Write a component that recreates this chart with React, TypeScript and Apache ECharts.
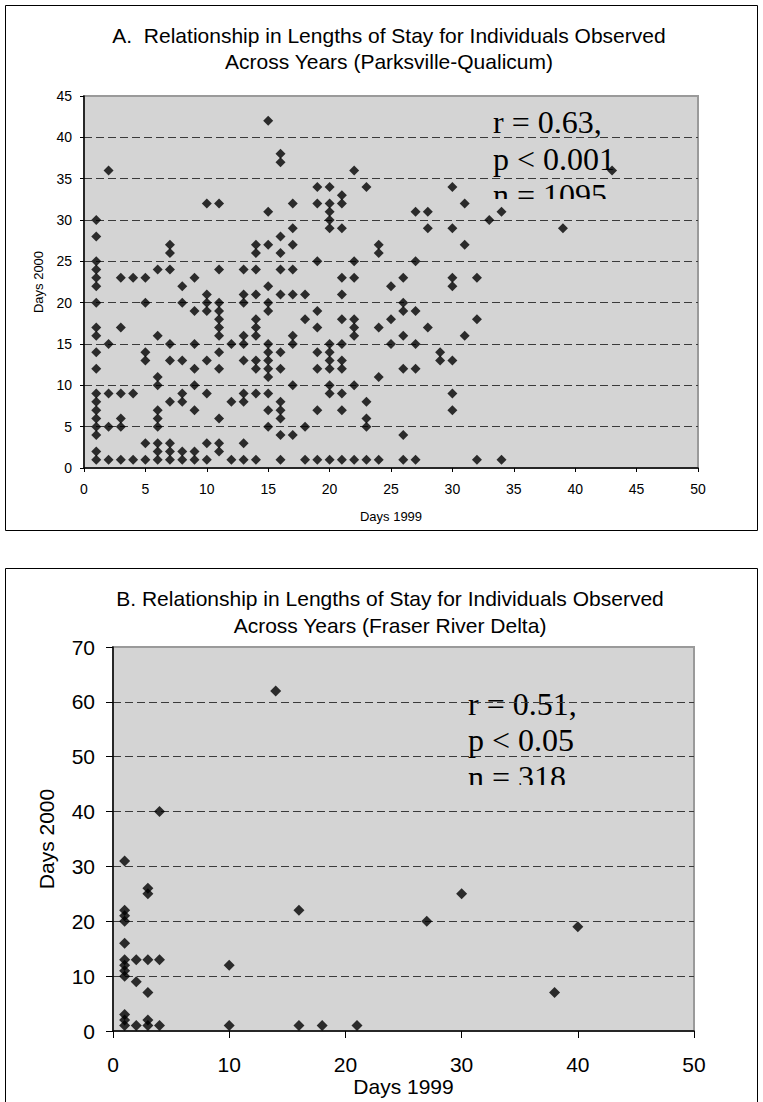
import React, { useEffect, useRef } from "react";
import * as echarts from "echarts";

// ---------- texts ----------
const titleA = [
  "A.  Relationship in Lengths of Stay for Individuals Observed",
  "Across Years (Parksville-Qualicum)",
];
const titleB = [
  "B. Relationship in Lengths of Stay for Individuals Observed",
  "Across Years (Fraser River Delta)",
];
const statsA = ["r = 0.63,", "p < 0.001", "n = 1095"];
const statsB = ["r = 0.51,", "p < 0.05", "n = 318"];
const xAxisName = "Days 1999";
const yAxisName = "Days 2000";

// ---------- axis ranges ----------
const axisA = { xMin: 0, xMax: 50, xStep: 5, yMin: 0, yMax: 45, yStep: 5 };
const axisB = { xMin: 0, xMax: 50, xStep: 10, yMin: 0, yMax: 70, yStep: 10 };

// ---------- data: Parksville-Qualicum (days 1999 -> list of days 2000) ----------
const parksville: Array<[number, number[]]> = [
  [1, [30, 28, 25, 24, 23, 22, 20, 17, 16, 14, 12, 9, 8, 7, 6, 5, 4, 2, 1]],
  [2, [36, 15, 9, 5, 1]],
  [3, [23, 17, 9, 6, 5, 1]],
  [4, [23, 9, 1]],
  [5, [23, 20, 14, 13, 3, 1]],
  [6, [24, 16, 11, 10, 7, 6, 5, 3, 2, 1]],
  [7, [27, 26, 24, 15, 13, 8, 3, 2, 1]],
  [8, [22, 20, 13, 9, 8, 2, 1]],
  [9, [23, 19, 15, 12, 10, 7, 2, 1]],
  [10, [32, 21, 20, 19, 13, 9, 3, 1]],
  [11, [32, 24, 20, 19, 18, 17, 16, 14, 12, 6, 3, 2]],
  [12, [15, 8, 1]],
  [13, [24, 21, 20, 16, 15, 13, 9, 8, 3, 1]],
  [14, [27, 26, 24, 21, 18, 17, 16, 13, 12, 9, 1]],
  [15, [42, 31, 27, 22, 20, 19, 15, 14, 13, 12, 11, 9, 7, 5]],
  [16, [38, 37, 28, 26, 24, 21, 14, 12, 8, 7, 6, 4, 1]],
  [17, [32, 29, 27, 24, 21, 16, 15, 10, 4]],
  [18, [21, 18, 5, 1]],
  [19, [34, 32, 25, 19, 17, 14, 12, 7, 1]],
  [20, [34, 32, 31, 30, 29, 15, 14, 13, 12, 10, 9, 1]],
  [21, [33, 32, 29, 23, 21, 18, 15, 13, 12, 9, 7, 1]],
  [22, [36, 25, 23, 18, 17, 16, 10, 1]],
  [23, [34, 8, 6, 5, 1]],
  [24, [27, 26, 17, 11, 1]],
  [25, [22, 18, 15]],
  [26, [23, 20, 19, 16, 12, 4, 1]],
  [27, [31, 25, 19, 15, 12, 1]],
  [28, [31, 29, 17]],
  [29, [14, 13]],
  [30, [34, 29, 23, 22, 13, 9, 7]],
  [31, [32, 27, 16]],
  [32, [23, 18, 1]],
  [33, [30]],
  [34, [31, 1]],
  [39, [29]],
  [43, [36]],
];

// ---------- data: Fraser River Delta ----------
const fraserDays1999 = [1, 1, 1, 1, 1, 1, 1, 1, 1, 1, 1, 1, 2, 2, 2, 3, 3, 3, 3, 3, 3, 4, 4, 4, 10, 10, 14, 16, 16, 18, 21, 27, 30, 38, 40];
const fraserDays2000 = [31, 22, 21, 20, 16, 13, 12, 11, 10, 3, 2, 1, 13, 9, 1, 26, 25, 13, 7, 2, 1, 40, 13, 1, 12, 1, 62, 22, 1, 1, 1, 20, 25, 7, 19];

const SANS = 'Arial, "Liberation Sans", Helvetica, sans-serif';
const SERIF = '"Times New Roman", "Liberation Serif", serif';
const PLOT_BG = "#d4d4d4";

export default function App() {
  const ref = useRef<HTMLDivElement>(null);

  useEffect(() => {
    document.body.style.margin = "0";
    if (!ref.current) return;
    const chart = echarts.init(ref.current, undefined, { renderer: "svg" });

    const dataA: number[][] = [];
    parksville.forEach(([x, ys]) => ys.forEach((y) => dataA.push([x, y])));
    const dataB = fraserDays1999.map((x, i) => [x, fraserDays2000[i]]);

    const split = {
      show: true,
      showMinLine: false,
      showMaxLine: false,
      lineStyle: { color: "#3a3a3a", width: 1, type: [8, 4] as any },
    };

    const text = (
      x: number,
      y: number,
      t: string,
      size: number,
      family: string,
      align: string,
      z = 1
    ) => ({
      type: "text",
      x,
      y,
      z,
      silent: true,
      style: {
        text: t,
        fill: "#000",
        fontSize: size,
        fontFamily: family,
        align,
        verticalAlign: "middle",
      },
    });

    const graphics: any[] = [
      // outer frames
      {
        type: "rect",
        z: 0,
        shape: { x: 5.5, y: 5.5, width: 752, height: 525 },
        style: { fill: "none", stroke: "#000", lineWidth: 1 },
      },
      {
        type: "rect",
        z: 0,
        shape: { x: 5.5, y: 568.5, width: 752, height: 560 },
        style: { fill: "none", stroke: "#000", lineWidth: 1 },
      },
      // titles
      text(389, 35, titleA[0], 21, SANS, "center"),
      text(389, 61, titleA[1], 21, SANS, "center"),
      text(390, 598, titleB[0], 21, SANS, "center"),
      text(390, 625, titleB[1], 21, SANS, "center"),
      // stats A
      text(493, 122, statsA[0], 32, SERIF, "left"),
      text(493, 158.5, statsA[1], 32, SERIF, "left"),
      text(493, 195, statsA[2], 32, SERIF, "left"),
      {
        type: "rect",
        z: 2,
        silent: true,
        shape: { x: 488, y: 199, width: 125, height: 9 },
        style: { fill: PLOT_BG },
      },
      // stats B
      text(468, 703.5, statsB[0], 32, SERIF, "left"),
      text(468, 740, statsB[1], 32, SERIF, "left"),
      text(468, 777, statsB[2], 32, SERIF, "left"),
      {
        type: "rect",
        z: 2,
        silent: true,
        shape: { x: 463, y: 785, width: 128, height: 9 },
        style: { fill: PLOT_BG },
      },
    ];

    const gridCommon = {
      show: true,
      backgroundColor: PLOT_BG,
      borderColor: "#9a9a9a",
      borderWidth: 2,
      containLabel: false,
    };

    chart.setOption({
      animation: false,
      grid: [
        { ...gridCommon, left: 84, top: 96, width: 614, height: 372 },
        { ...gridCommon, left: 113, top: 647, width: 581, height: 384 },
      ],
      xAxis: [
        {
          gridIndex: 0,
          type: "value",
          z: 5,
          min: axisA.xMin,
          max: axisA.xMax,
          interval: axisA.xStep,
          name: xAxisName,
          nameLocation: "middle",
          nameGap: 42,
          nameTextStyle: { color: "#000", fontSize: 13, fontFamily: SANS },
          axisLine: { onZero: false, lineStyle: { color: "#000", width: 1.5 } },
          axisTick: { show: true, length: 4, lineStyle: { color: "#000" } },
          axisLabel: { color: "#000", fontSize: 14, fontFamily: SANS, margin: 14 },
          splitLine: { show: false },
        },
        {
          gridIndex: 1,
          type: "value",
          z: 5,
          min: axisB.xMin,
          max: axisB.xMax,
          interval: axisB.xStep,
          name: xAxisName,
          nameLocation: "middle",
          nameGap: 43,
          nameTextStyle: { color: "#000", fontSize: 21, fontFamily: SANS },
          axisLine: { onZero: false, lineStyle: { color: "#000", width: 1.5 } },
          axisTick: { show: true, length: 7, lineStyle: { color: "#000" } },
          axisLabel: { color: "#000", fontSize: 21, fontFamily: SANS, margin: 23 },
          splitLine: { show: false },
        },
      ],
      yAxis: [
        {
          gridIndex: 0,
          type: "value",
          z: 5,
          min: axisA.yMin,
          max: axisA.yMax,
          interval: axisA.yStep,
          name: yAxisName,
          nameLocation: "middle",
          nameGap: 39,
          nameTextStyle: { color: "#000", fontSize: 13, fontFamily: SANS },
          axisLine: { onZero: false, lineStyle: { color: "#000", width: 1.5 } },
          axisTick: { show: true, length: 4, lineStyle: { color: "#000" } },
          axisLabel: { color: "#000", fontSize: 14, fontFamily: SANS, margin: 12 },
          splitLine: split,
        },
        {
          gridIndex: 1,
          type: "value",
          z: 5,
          min: axisB.yMin,
          max: axisB.yMax,
          interval: axisB.yStep,
          name: yAxisName,
          nameLocation: "middle",
          nameGap: 56,
          nameTextStyle: { color: "#000", fontSize: 21, fontFamily: SANS },
          axisLine: { onZero: false, lineStyle: { color: "#000", width: 1.5 } },
          axisTick: { show: true, length: 7, lineStyle: { color: "#000" } },
          axisLabel: { color: "#000", fontSize: 21, fontFamily: SANS, margin: 18 },
          splitLine: split,
        },
      ],
      series: [
        {
          type: "scatter",
          xAxisIndex: 0,
          yAxisIndex: 0,
          z: 10,
          symbol: "diamond",
          symbolSize: 10,
          itemStyle: { color: "#000" },
          data: dataA,
        },
        {
          type: "scatter",
          xAxisIndex: 1,
          yAxisIndex: 1,
          z: 10,
          symbol: "diamond",
          symbolSize: 11,
          itemStyle: { color: "#000" },
          data: dataB,
        },
      ],
      graphic: graphics,
    });

    return () => chart.dispose();
  }, []);

  return <div ref={ref} style={{ width: 763, height: 1102 }} />;
}
